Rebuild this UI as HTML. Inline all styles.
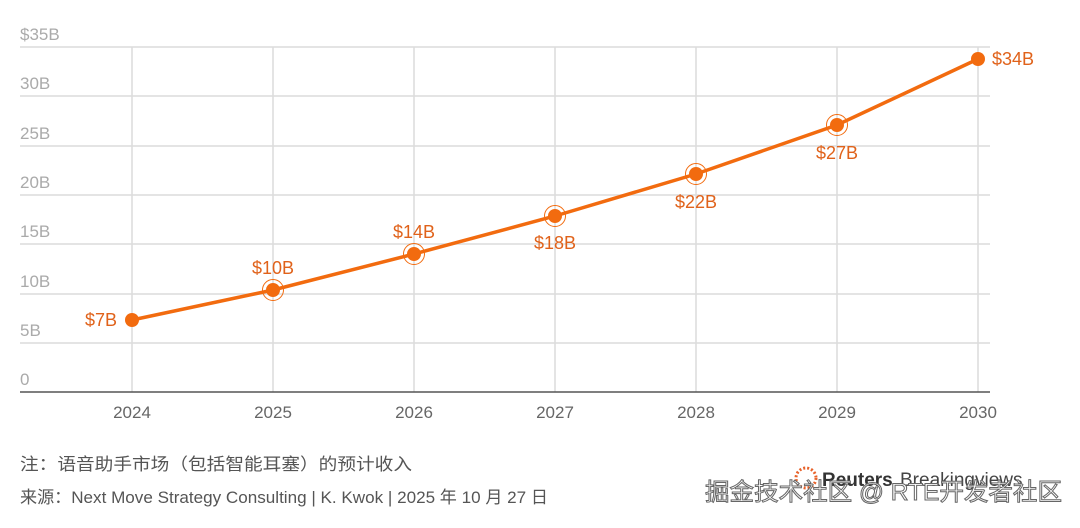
<!DOCTYPE html>
<html><head><meta charset="utf-8"><style>
body{margin:0;background:#fff;width:1080px;height:523px;overflow:hidden;font-family:"Liberation Sans","Noto Sans CJK SC",sans-serif}
</style></head><body>
<svg width="1080" height="523" xmlns="http://www.w3.org/2000/svg" font-family="Liberation Sans, Noto Sans CJK SC, sans-serif">
<g stroke="#dcdcdc" stroke-width="1.5">
<line x1="20" y1="47" x2="990" y2="47"/><line x1="20" y1="96" x2="990" y2="96"/><line x1="20" y1="146" x2="990" y2="146"/><line x1="20" y1="195" x2="990" y2="195"/><line x1="20" y1="244" x2="990" y2="244"/><line x1="20" y1="294" x2="990" y2="294"/><line x1="20" y1="343" x2="990" y2="343"/>
<line x1="132" y1="47" x2="132" y2="392"/><line x1="273" y1="47" x2="273" y2="392"/><line x1="414" y1="47" x2="414" y2="392"/><line x1="555" y1="47" x2="555" y2="392"/><line x1="696" y1="47" x2="696" y2="392"/><line x1="837" y1="47" x2="837" y2="392"/><line x1="978" y1="47" x2="978" y2="392"/>
</g>
<line x1="20" y1="392" x2="990" y2="392" stroke="#555" stroke-width="1.5"/>
<g fill="#aaa" font-size="17">
<text x="20" y="40">$35B</text><text x="20" y="89">30B</text><text x="20" y="139">25B</text><text x="20" y="188">20B</text><text x="20" y="237">15B</text><text x="20" y="287">10B</text><text x="20" y="336">5B</text><text x="20" y="385">0</text>
</g>
<g fill="#666" font-size="17" text-anchor="middle">
<text x="132" y="418">2024</text><text x="273" y="418">2025</text><text x="414" y="418">2026</text><text x="555" y="418">2027</text><text x="696" y="418">2028</text><text x="837" y="418">2029</text><text x="978" y="418">2030</text>
</g>
<polyline fill="none" stroke="#f26b0f" stroke-width="3.5" points="132,320 273,290 414,254 555,216 696,174 837,125 978,59"/>
<g fill="#f26b0f">
<circle cx="132" cy="320" r="7"/><circle cx="273" cy="290" r="7"/><circle cx="414" cy="254" r="7"/><circle cx="555" cy="216" r="7"/><circle cx="696" cy="174" r="7"/><circle cx="837" cy="125" r="7"/><circle cx="978" cy="59" r="7"/>
</g>
<g fill="none" stroke="#f26b0f" stroke-width="1">
<circle cx="273" cy="290" r="10.5"/><circle cx="414" cy="254" r="10.5"/><circle cx="555" cy="216" r="10.5"/><circle cx="696" cy="174" r="10.5"/><circle cx="837" cy="125" r="10.5"/>
</g>
<g fill="#e0621a" font-size="18">
<text x="85" y="326">$7B</text>
<text x="273" y="274" text-anchor="middle">$10B</text>
<text x="414" y="238" text-anchor="middle">$14B</text>
<text x="555" y="249" text-anchor="middle">$18B</text>
<text x="696" y="208" text-anchor="middle">$22B</text>
<text x="837" y="159" text-anchor="middle">$27B</text>
<text x="992" y="65">$34B</text>
</g>
<g fill="#555" font-size="17">
<text x="20" y="470" textLength="392" lengthAdjust="spacingAndGlyphs">注：语音助手市场（包括智能耳塞）的预计收入</text>
<text x="20" y="503" textLength="528" lengthAdjust="spacingAndGlyphs">来源：Next Move Strategy Consulting | K. Kwok | 2025 年 10 月 27 日</text>
</g>
<circle cx="806" cy="478" r="10" fill="none" stroke="#e8622a" stroke-width="3" stroke-dasharray="2 2"/>
<text x="822" y="486" font-size="19" font-weight="bold" fill="#333">Reuters</text>
<text x="900" y="486" font-size="19" fill="#444">Breakingviews</text>
<text x="705" y="500" font-size="24" fill="#fff" stroke="#666" stroke-width="1" textLength="357" lengthAdjust="spacingAndGlyphs">掘金技术社区 @ RTE开发者社区</text>
</svg>
</body></html>
